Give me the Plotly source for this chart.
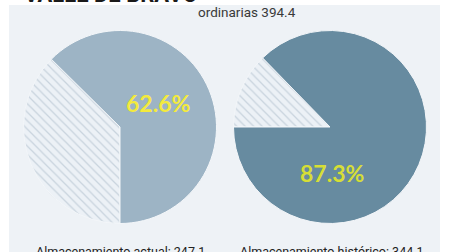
import plotly.graph_objects as go

# Data
pie_titles = ["Almacenamiento actual: 247.1", "Almacenamiento histórico: 344.1"]
filled_pct = [62.6, 87.3]
pct_labels = ["62.6%", "87.3%"]
header_text = "ordinarias 394.4"
title_text = "VALLE DE BRAVO"

W, H = 449, 252

def px_x(x):
    return x / W

def px_y(y):
    return 1 - y / H

fill_colors = ["#9db4c5", "#678ba0"]
pct_colors = ["#f4ea3c", "#d6de36"]
rotations = [180, 270]
centers = [(120, 127), (330, 127)]
R = 96.5

fig = go.Figure()
for i in range(2):
    cx, cy = centers[i]
    empty = round(100 - filled_pct[i], 1)
    fig.add_trace(go.Pie(
        values=[empty, filled_pct[i]],
        labels=["vacío", "lleno"],
        sort=False,
        direction="clockwise",
        rotation=rotations[i],
        textinfo="none",
        hoverinfo="skip",
        showlegend=False,
        marker=dict(
            colors=["#e9eff5", fill_colors[i]],
            line=dict(color="#f3f6f9", width=1),
            pattern=dict(shape=["\\", ""], fgcolor="#c8d3dd", bgcolor="#ecf1f6",
                         size=6, solidity=0.2),
        ),
        domain=dict(x=[px_x(cx - R), px_x(cx + R)], y=[px_y(cy + R), px_y(cy - R)]),
    ))

shapes = [dict(type="rect", xref="paper", yref="paper",
               x0=px_x(9), x1=px_x(440), y0=0, y1=px_y(5),
               fillcolor="#eef2f6", line=dict(width=0), layer="below")]

annotations = [
    dict(text="<b>" + title_text + "</b>", x=px_x(22), y=px_y(9), xref="paper", yref="paper",
         xanchor="left", yanchor="bottom", showarrow=False,
         font=dict(family="Roboto", size=22, color="#1a1a1a")),
    dict(text=header_text, x=px_x(247), y=px_y(12), xref="paper", yref="paper",
         xanchor="center", yanchor="middle", showarrow=False,
         font=dict(family="Roboto", size=13.5, color="#3a3a3a")),
    dict(text="<b>" + pct_labels[0] + "</b>", x=px_x(158), y=px_y(103), xref="paper", yref="paper",
         xanchor="center", yanchor="middle", showarrow=False,
         font=dict(family="Lato", size=23, color=pct_colors[0])),
    dict(text="<b>" + pct_labels[1] + "</b>", x=px_x(332), y=px_y(173), xref="paper", yref="paper",
         xanchor="center", yanchor="middle", showarrow=False,
         font=dict(family="Lato", size=23, color=pct_colors[1])),
    dict(text=pie_titles[0], x=px_x(120), y=px_y(242), xref="paper", yref="paper",
         xanchor="center", yanchor="top", showarrow=False,
         font=dict(family="Roboto", size=12.5, color="#222222")),
    dict(text=pie_titles[1], x=px_x(332), y=px_y(242), xref="paper", yref="paper",
         xanchor="center", yanchor="top", showarrow=False,
         font=dict(family="Roboto", size=12.5, color="#222222")),
]

fig.update_layout(
    width=W, height=H,
    margin=dict(l=0, r=0, t=0, b=0),
    paper_bgcolor="#ffffff",
    plot_bgcolor="#ffffff",
    shapes=shapes,
    annotations=annotations,
)

fig.write_html("out.html", config={"displayModeBar": False})
